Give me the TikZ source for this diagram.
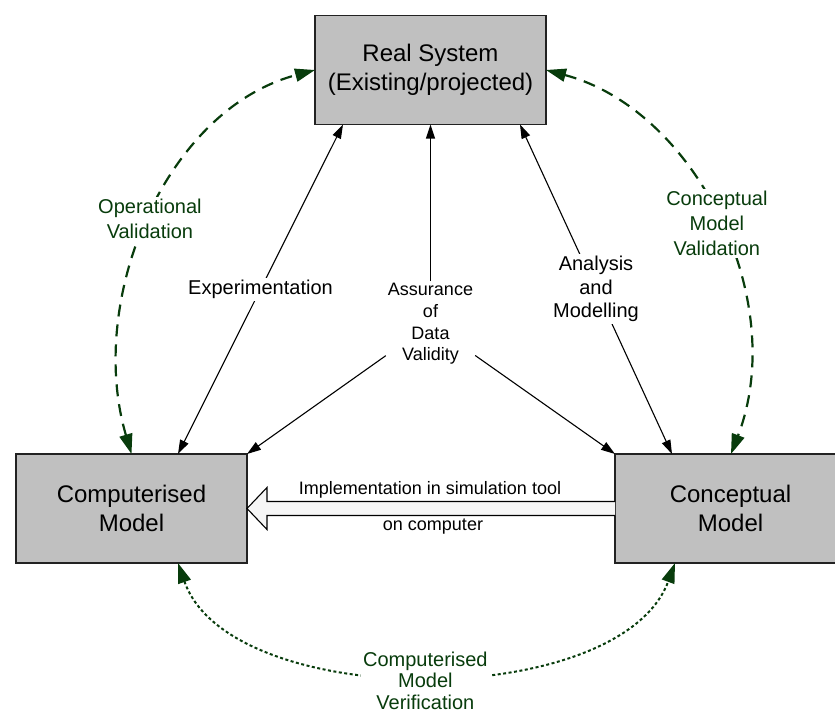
\documentclass[tikz,border=0pt]{standalone}
\usepackage{fontspec}
\setmainfont{Liberation Sans}
\usetikzlibrary{calc}
\usetikzlibrary{arrows.meta}
\definecolor{valgreen}{RGB}{8,60,12}
\definecolor{boxgrey}{RGB}{192,192,192}
\definecolor{boxline}{RGB}{34,34,34}
\definecolor{arrowfill}{RGB}{246,246,246}
\tikzset{
  blk/.tip={Triangle[length=14pt,width=9pt]},
  grn/.tip={Triangle[length=20pt,width=13pt]},
  model/.style={draw=boxline, line width=1.6pt, fill=boxgrey, minimum width=231pt, minimum height=109pt,
    inner sep=0pt, outer sep=0pt, align=center, font=\fontsize{24}{29}\selectfont},
  flow/.style={line width=1.1pt, -{blk}},
  twoway/.style={line width=1.1pt, {blk}-{blk}},
  lbl/.style={fill=white, align=center, inner sep=2pt, font=\fontsize{20}{24}\selectfont},
  glbl/.style={lbl, text=valgreen, font=\fontsize{20}{25}\selectfont},
  validation/.style={valgreen, line width=2.2pt, dash pattern=on 12pt off 8pt, {grn}-{grn}},
  verification/.style={valgreen, line width=2pt, dash pattern=on 3pt off 2.5pt, {grn}-{grn}},
}

\begin{document}
\begin{tikzpicture}[x=1pt, y=-1pt]
  \path[use as bounding box, clip] (0,0) rectangle (835,713);

  \node [model] (real) at (430.5, 70) {Real System\\(Existing/projected)};
  \node [model] (comp) at (131.5, 508.5) {Computerised\\Model};
  \node [model] (conc) at (730.5, 508.5) {Conceptual\\Model};

  % implementation arrow
  \draw [line width=1.1pt, fill=arrowfill] ($(conc.west)+(0,-7)$) -- ($(comp.east)+(20,-7)$) -- ++(0,-14)
    -- (comp.east) -- ($(comp.east)+(20,21)$) -- ++(0,-14) -- ($(conc.west)+(0,7)$);
  \node [font=\fontsize{18}{22}\selectfont] (impl) at (430, 490) {Implementation in simulation tool};
  \node [font=\fontsize{18}{22}\selectfont] (oncomp) at (433, 527) {on computer};

  \draw [twoway] ($(real.south west)+(28,0)$) -- node[lbl] (exper) {Experimentation} ($(comp.north west)+(162,0)$);
  \draw [twoway] ($(real.south east)+(-26,0)$) -- node[lbl, font=\fontsize{20}{23.5}\selectfont] (anmod) {Analysis\\and\\Modelling} ($(conc.north west)+(57,0)$);

  \node [lbl, font=\fontsize{18}{21.7}\selectfont] (assur) at (430.5, 324) {Assurance\\of\\Data\\Validity};
  \draw [flow] (assur) -- (real.south);
  \draw [flow] (assur) -- (comp.north east);
  \draw [flow] (assur) -- (conc.north west);

  \draw [validation] (comp.north) .. controls (86,300) and (165,110) .. node[glbl, pos=0.5] (opval) {Operational\\Validation} (real.west);
  \draw [validation] (real.east) .. controls (696,110) and (790,300) .. node[glbl, pos=0.5, yshift=-4pt] (cmval) {Conceptual\\Model\\Validation} ($(conc.north west)+(116,0)$);
  \draw [verification] ($(comp.south west)+(162,0)$) .. controls (230,712) and (620,712) .. node[glbl, pos=0.5, yshift=-6pt, font=\fontsize{20}{21.5}\selectfont] (cmver) {Computerised\\Model\\Verification} ($(conc.south west)+(60,0)$);

\end{tikzpicture}
\end{document}
